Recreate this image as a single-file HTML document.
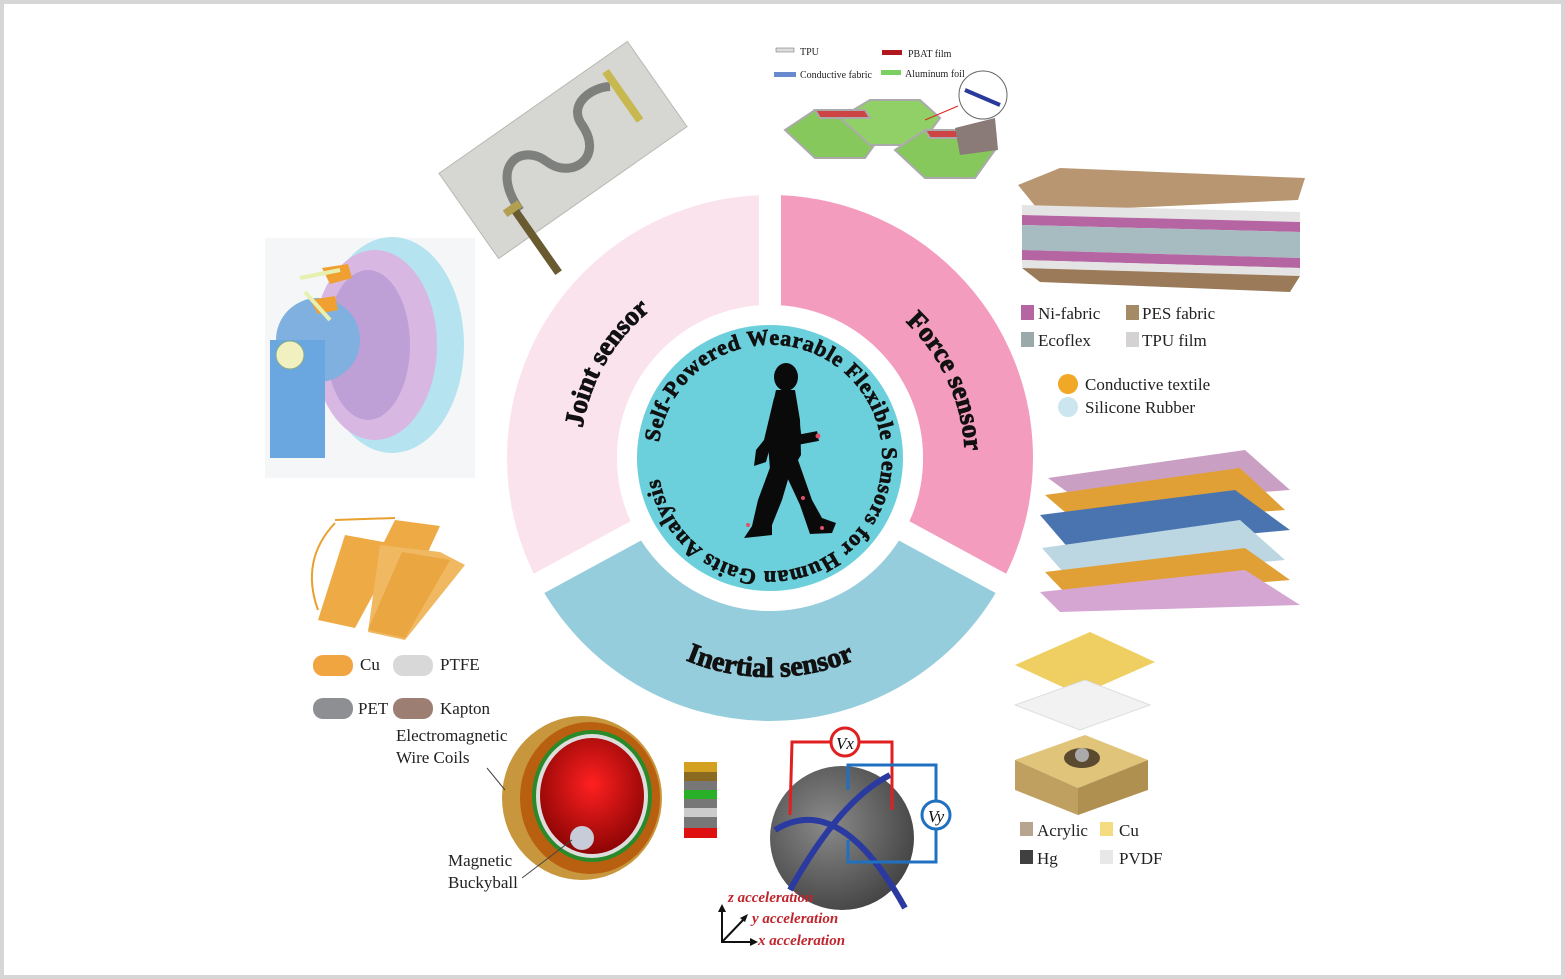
<!DOCTYPE html>
<html><head><meta charset="utf-8"><style>
html,body{margin:0;padding:0;background:#fff}
svg{display:block}
text{font-family:"Liberation Serif",serif}
.b{font-weight:700}
</style></head><body>
<svg width="1565" height="979" viewBox="0 0 1565 979" xmlns="http://www.w3.org/2000/svg">
<rect x="2" y="2" width="1561" height="975" fill="#fff" stroke="#d6d6d6" stroke-width="4"/>

<g fill="none" stroke-width="110">
<circle cx="770" cy="458" r="208" stroke="#96cddd" stroke-dasharray="446.5 2000" stroke-dashoffset="-103.5"/>
<circle cx="770" cy="458" r="208" stroke="#fbe3ee" stroke-dasharray="430.2 2000" stroke-dashoffset="-550"/>
<circle cx="770" cy="458" r="208" stroke="#f49cbd" stroke-dasharray="327 2000" stroke-dashoffset="-980"/>
<circle cx="770" cy="458" r="208" stroke="#f49cbd" stroke-dasharray="104 2000" stroke-dashoffset="0"/>
</g>
<g stroke="#fff" stroke-width="22">
<line x1="770" y1="458" x2="770" y2="170"/>
<line x1="770" y1="458" x2="523.9" y2="591.6"/>
<line x1="770" y1="458" x2="1016.1" y2="591.6"/>
</g>
<circle cx="770" cy="458" r="153" fill="#fff"/>
<circle cx="770" cy="458" r="133" fill="#6ccfdc"/>

<defs>
<path id="pc" d="M659.1 442.4 A112 112 0 1 1 880.9 473.6 A112 112 0 1 1 659.1 442.4"/>
<path id="pj" d="M591.5 523 A190 190 0 0 1 737 270.9"/>
<path id="pf" d="M832 278 A192 192 0 0 1 950 535"/>
<path id="pi" d="M580.3 567.5 A219 219 0 0 0 959.7 567.5"/>
<radialGradient id="gs" cx="0.4" cy="0.4" r="0.7"><stop offset="0" stop-color="#8a8a8a"/><stop offset="1" stop-color="#3e3e3e"/></radialGradient>
<radialGradient id="gr" cx="0.5" cy="0.4" r="0.7"><stop offset="0" stop-color="#ff2020"/><stop offset="1" stop-color="#7a0000"/></radialGradient>
</defs>
<text class="b" font-size="22" fill="#111" stroke="#111" stroke-width="0.7"><textPath class="b" href="#pc" textLength="672" lengthAdjust="spacing">Self-Powered Wearable Flexible Sensors for Human Gaits Analysis</textPath></text>
<text class="b" font-size="27" fill="#111" stroke="#111" stroke-width="0.9" text-anchor="middle"><textPath class="b" href="#pj" startOffset="50%">Joint sensor</textPath></text>
<text class="b" font-size="27" fill="#111" stroke="#111" stroke-width="0.9" text-anchor="middle"><textPath class="b" href="#pf" startOffset="50%">Force sensor</textPath></text>
<text class="b" font-size="28" fill="#111" stroke="#111" stroke-width="0.9" text-anchor="middle"><textPath class="b" href="#pi" startOffset="50%">Inertial sensor</textPath></text>

<g fill="#0a0a0a">
<ellipse cx="786" cy="377" rx="12" ry="14"/>
<polygon points="776,390 795,390 800,420 801,455 792,470 770,470 767,430"/>
<polygon points="772,462 792,466 782,500 772,525 772,535 744,538 752,526 758,500"/>
<polygon points="780,462 798,460 812,500 822,518 836,523 832,533 810,534 800,505"/>
<polygon points="774,398 784,402 772,440 766,462 754,466 756,450 764,440"/>
<polyline points="792,405 797,440 818,436" fill="none" stroke="#0a0a0a" stroke-width="10" stroke-linejoin="round"/>
</g>
<g fill="#e0506a"><circle cx="818" cy="436" r="2.5"/><circle cx="803" cy="498" r="2"/><circle cx="748" cy="525" r="2"/><circle cx="822" cy="528" r="2"/></g>

<g transform="translate(563,150) rotate(-35)">
<rect x="-115" y="-52" width="230" height="104" fill="#d6d6d2" stroke="#b8b8b4"/>
<path d="M-70 25 C-70 -30 -30 -30 -20 0 C-10 30 30 30 30 -10 C30 -35 60 -35 75 -25" fill="none" stroke="#7d807c" stroke-width="9"/>
<rect x="-78" y="18" width="8" height="80" fill="#6a5a30"/>
<rect x="-84" y="15" width="18" height="8" fill="#b2a050"/>
<rect x="76" y="-40" width="8" height="60" fill="#c8b850"/>
</g>

<rect x="265" y="238" width="210" height="240" fill="#f4f6f8"/>
<ellipse cx="392" cy="345" rx="72" ry="108" fill="#b5e3ef"/>
<ellipse cx="375" cy="345" rx="62" ry="95" fill="#d9b7e3"/>
<ellipse cx="368" cy="345" rx="42" ry="75" fill="#bfa0d6"/>
<circle cx="318" cy="340" r="42" fill="#7fb0e0"/>
<rect x="270" y="340" width="55" height="118" fill="#6aa6e0"/>
<circle cx="290" cy="355" r="14" fill="#f1f0c0" stroke="#8a8"/>
<polygon points="322,268 348,264 352,278 330,284" fill="#f0a030"/>
<polygon points="310,300 335,296 338,310 318,314" fill="#f0a030"/>
<line x1="300" y1="278" x2="340" y2="270" stroke="#e8f0b0" stroke-width="4"/>
<line x1="305" y1="292" x2="330" y2="320" stroke="#e8f0b0" stroke-width="4"/>

<g font-size="10" fill="#222">
<rect x="776" y="48" width="18" height="4" fill="#ddd" stroke="#666" stroke-width=".5"/><text x="800" y="55">TPU</text>
<rect x="882" y="50" width="20" height="5" fill="#b01820"/><text x="908" y="57">PBAT film</text>
<rect x="774" y="72" width="22" height="5" fill="#6a8ad0"/><text x="800" y="78">Conductive fabric</text>
<rect x="881" y="70" width="20" height="5" fill="#7ad060"/><text x="905" y="77">Aluminum foil</text>
</g>
<g stroke="#aaa" stroke-width="2">
<polygon points="785,130 815,110 865,110 885,130 865,158 815,158" fill="#86c85c"/>
<polygon points="840,118 870,100 920,100 940,118 920,145 870,145" fill="#90d066"/>
<polygon points="895,150 925,130 975,130 995,150 975,178 925,178" fill="#86c85c"/>
<polygon points="815,110 865,110 870,118 820,118" fill="#c44"/>
<polygon points="925,130 975,130 980,138 930,138" fill="#c44"/>
<polygon points="955,128 995,118 998,150 960,155" fill="#8a7a78" stroke="none"/>
</g>
<circle cx="983" cy="95" r="24" fill="#fff" stroke="#666"/>
<line x1="965" y1="90" x2="1000" y2="105" stroke="#2a3a9a" stroke-width="4"/>
<line x1="925" y1="120" x2="958" y2="106" stroke="#d22" stroke-width="1"/>

<polygon points="1018,185 1060,168 1305,178 1298,200 1040,212" fill="#b89672"/>
<polygon points="1022,205 1300,212 1300,222 1022,215" fill="#e4e4e4"/>
<polygon points="1022,215 1300,222 1300,232 1022,225" fill="#b565a2"/>
<polygon points="1022,225 1300,232 1300,258 1022,250" fill="#a7bcc0"/>
<polygon points="1022,250 1300,258 1300,268 1022,260" fill="#b565a2"/>
<polygon points="1022,260 1300,268 1300,276 1022,268" fill="#e4e4e4"/>
<polygon points="1022,268 1300,276 1290,292 1040,282" fill="#9a7a58"/>
<g font-size="17" fill="#222">
<rect x="1021" y="305" width="13" height="15" fill="#b565a2"/><text x="1038" y="319">Ni-fabric</text>
<rect x="1126" y="305" width="13" height="15" fill="#a58a66"/><text x="1142" y="319">PES fabric</text>
<rect x="1021" y="332" width="13" height="15" fill="#9aa9aa"/><text x="1038" y="346">Ecoflex</text>
<rect x="1126" y="332" width="13" height="15" fill="#d4d2d2"/><text x="1142" y="346">TPU film</text>
<circle cx="1068" cy="384" r="10" fill="#f0a826"/><text x="1085" y="390">Conductive textile</text>
<circle cx="1068" cy="407" r="10" fill="#cce6ef"/><text x="1085" y="413">Silicone Rubber</text>
</g>

<polygon points="1048,478 1245,450 1290,490 1085,505" fill="#c9a0c4"/>
<polygon points="1045,495 1240,468 1285,510 1080,525" fill="#e0a035"/>
<polygon points="1040,515 1235,490 1290,530 1070,550" fill="#4a74b0"/>
<polygon points="1042,548 1240,520 1285,560 1070,580" fill="#bcd6e2"/>
<polygon points="1045,572 1245,548 1290,580 1070,598" fill="#e0a035"/>
<polygon points="1040,592 1245,570 1300,605 1060,612" fill="#d6a6d2"/>

<polygon points="1015,665 1090,632 1155,662 1080,695" fill="#efcf62"/>
<polygon points="1015,705 1085,680 1150,705 1080,730" fill="#f2f2f2" stroke="#ddd"/>
<polygon points="1015,760 1085,735 1148,760 1078,788" fill="#e0c47a"/>
<polygon points="1015,760 1078,788 1078,815 1015,790" fill="#c0a060"/>
<polygon points="1078,788 1148,760 1148,790 1078,815" fill="#b09050"/>
<ellipse cx="1082" cy="758" rx="18" ry="10" fill="#5a4a30"/>
<circle cx="1082" cy="755" r="7" fill="#aaa"/>
<g font-size="17" fill="#222">
<rect x="1020" y="822" width="13" height="14" fill="#b8a58f"/><text x="1037" y="836">Acrylic</text>
<rect x="1100" y="822" width="13" height="14" fill="#f5dc80"/><text x="1119" y="836">Cu</text>
<rect x="1020" y="850" width="13" height="14" fill="#404040"/><text x="1037" y="864">Hg</text>
<rect x="1100" y="850" width="13" height="14" fill="#e8e8e8"/><text x="1119" y="864">PVDF</text>
</g>

<circle cx="842" cy="838" r="72" fill="url(#gs)"/>
<path d="M775 830 Q840 790 905 908" fill="none" stroke="#2a3aa0" stroke-width="6"/>
<path d="M790 890 Q840 800 890 775" fill="none" stroke="#2a3aa0" stroke-width="6"/>
<polyline points="790,815 792,742 830,742" fill="none" stroke="#e02020" stroke-width="3"/>
<polyline points="860,742 892,742 892,810" fill="none" stroke="#e02020" stroke-width="3"/>
<circle cx="845" cy="742" r="14" fill="#fff" stroke="#e02020" stroke-width="3"/>
<text x="845" y="749" font-size="17" font-style="italic" text-anchor="middle" fill="#111">Vx</text>
<polyline points="848,790 848,765 936,765 936,800" fill="none" stroke="#2070c0" stroke-width="3"/>
<polyline points="936,830 936,862 848,862 848,840" fill="none" stroke="#2070c0" stroke-width="3"/>
<circle cx="936" cy="815" r="14" fill="#fff" stroke="#2070c0" stroke-width="3"/>
<text x="936" y="822" font-size="17" font-style="italic" text-anchor="middle" fill="#111">Vy</text>
<g font-size="15" font-style="italic" font-weight="bold" fill="#c0252d">
<text x="728" y="902">z acceleration</text>
<text x="752" y="923">y acceleration</text>
<text x="758" y="945">x acceleration</text>
</g>
<g stroke="#111" stroke-width="2" fill="none">
<polyline points="722,910 722,942 752,942"/><line x1="722" y1="942" x2="745" y2="918"/>
</g>
<g fill="#111"><polygon points="718,912 722,904 726,912"/><polygon points="750,938 758,942 750,946"/><polygon points="740,918 748,914 745,922"/></g>

<ellipse cx="582" cy="798" rx="80" ry="82" fill="#c8963c"/>
<ellipse cx="590" cy="798" rx="70" ry="76" fill="#b86010"/>
<ellipse cx="592" cy="796" rx="60" ry="66" fill="#2a8a2a"/>
<ellipse cx="592" cy="796" rx="56" ry="62" fill="#ddd"/>
<ellipse cx="592" cy="796" rx="52" ry="58" fill="url(#gr)"/>
<circle cx="582" cy="838" r="12" fill="#c8ccd8"/>
<rect x="684" y="762" width="33" height="76" fill="#777"/>
<rect x="684" y="762" width="33" height="10" fill="#d4a020"/>
<rect x="684" y="772" width="33" height="9" fill="#8a6a20"/>
<rect x="684" y="790" width="33" height="9" fill="#28b028"/>
<rect x="684" y="808" width="33" height="9" fill="#ccc"/>
<rect x="684" y="828" width="33" height="10" fill="#e01010"/>
<g font-size="17" fill="#222">
<text x="396" y="741">Electromagnetic</text><text x="396" y="763">Wire Coils</text>
<text x="448" y="866">Magnetic</text><text x="448" y="888">Buckyball</text>
</g>
<line x1="487" y1="768" x2="505" y2="790" stroke="#444"/>
<line x1="522" y1="878" x2="572" y2="840" stroke="#444"/>

<path d="M335 523 Q300 560 318 610" fill="none" stroke="#e8a030" stroke-width="2"/>
<line x1="335" y1="520" x2="395" y2="518" stroke="#e8a030" stroke-width="2"/>
<polygon points="395,520 440,526 428,552 382,546" fill="#eeaa44"/>
<polygon points="345,535 400,545 355,628 318,620" fill="#eeaa44"/>
<polygon points="380,545 440,552 465,565 405,640 368,632" fill="#f0b860"/>
<polygon points="402,552 450,560 405,638 368,630" fill="#eaa640"/>
<g font-size="17" fill="#222">
<rect x="313" y="655" width="40" height="21" rx="10" fill="#f0a540"/><text x="360" y="670">Cu</text>
<rect x="393" y="655" width="40" height="21" rx="10" fill="#d8d8d8"/><text x="440" y="670">PTFE</text>
<rect x="313" y="698" width="40" height="21" rx="10" fill="#8e8f93"/><text x="358" y="714">PET</text>
<rect x="393" y="698" width="40" height="21" rx="10" fill="#9c7f72"/><text x="440" y="714">Kapton</text>
</g>
</svg>
</body></html>
